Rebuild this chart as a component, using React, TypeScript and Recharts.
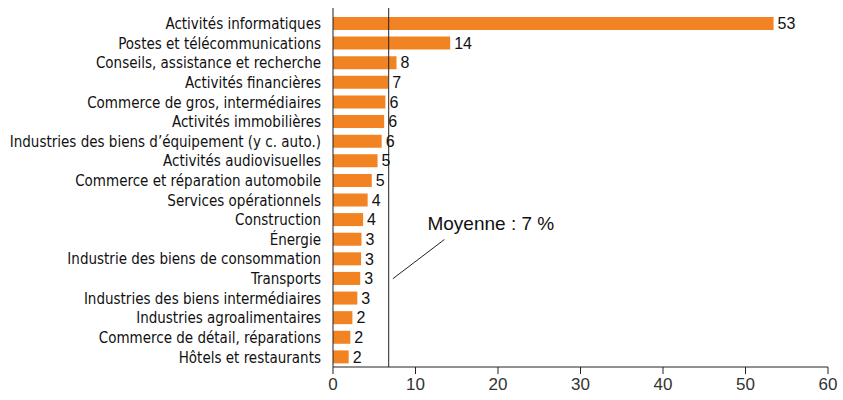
import { BarChart, Bar, XAxis, YAxis, ReferenceLine, ReferenceDot, LabelList } from 'recharts'

const categories = [
  'Activités informatiques',
  'Postes et télécommunications',
  'Conseils, assistance et recherche',
  'Activités financières',
  'Commerce de gros, intermédiaires',
  'Activités immobilières',
  'Industries des biens d’équipement (y c. auto.)',
  'Activités audiovisuelles',
  'Commerce et réparation automobile',
  'Services opérationnels',
  'Construction',
  'Énergie',
  'Industrie des biens de consommation',
  'Transports',
  'Industries des biens intermédiaires',
  'Industries agroalimentaires',
  'Commerce de détail, réparations',
  'Hôtels et restaurants',
]

const shares = [53.4, 14.2, 7.7, 6.7, 6.35, 6.2, 5.9, 5.4, 4.7, 4.2, 3.65, 3.45, 3.4, 3.3, 2.95, 2.35, 2.1, 1.9]

const xTicks = [0, 10, 20, 30, 40, 50, 60]

const average = 6.75
const averageLabel = 'Moyenne : 7 %'

const data = categories.map((name, i) => ({ name, value: shares[i] }))

const catFont = '"Liberation Sans Narrow", "DejaVu Sans Condensed", "Liberation Sans", sans-serif'
const font = '"Liberation Sans", Arial, sans-serif'

export default function App() {
  return (
    <div style={{ position: 'absolute', left: 0, top: 0, background: '#fff' }}>
      <BarChart
        width={843}
        height={400}
        data={data}
        layout="vertical"
        margin={{ top: 8, right: 15, left: 0, bottom: 3 }}
        barCategoryGap={0}
      >
        <XAxis
          type="number"
          domain={[0, 60]}
          ticks={xTicks}
          height={30}
          tickSize={7}
          tickMargin={4}
          stroke="#222"
          tick={{ fontSize: 17, fill: '#333', fontFamily: font }}
        />
        <YAxis
          type="category"
          dataKey="name"
          width={333}
          tickLine={false}
          tickSize={0}
          tickMargin={12}
          padding={{ top: 6 }}
          interval={0}
          stroke="#222"
          tick={{ fontSize: 15, fill: '#111', fontFamily: catFont }}
        />
        <Bar dataKey="value" fill="#F28322" barSize={13} isAnimationActive={false}>
          <LabelList
            dataKey="value"
            position="right"
            offset={4}
            formatter={(v: number) => Math.round(v)}
            style={{ fontSize: 16, fill: '#111', fontFamily: font }}
          />
        </Bar>
        <ReferenceLine x={average} stroke="#222" strokeWidth={1} />
        <ReferenceLine
          segment={[
            { x: 7.25, y: 'Transports' },
            { x: 13.5, y: 'Énergie' },
          ]}
          stroke="#222"
          strokeWidth={1}
        />
        <ReferenceDot
          x={11.45}
          y="Construction"
          r={0}
          fill="none"
          stroke="none"
          label={(props: any) => (
            <text
              x={props.viewBox.x}
              y={props.viewBox.y}
              dy={10}
              textAnchor="start"
              fontSize={19}
              fill="#111"
              fontFamily={font}
            >
              {averageLabel}
            </text>
          )}
        />
      </BarChart>
    </div>
  )
}
